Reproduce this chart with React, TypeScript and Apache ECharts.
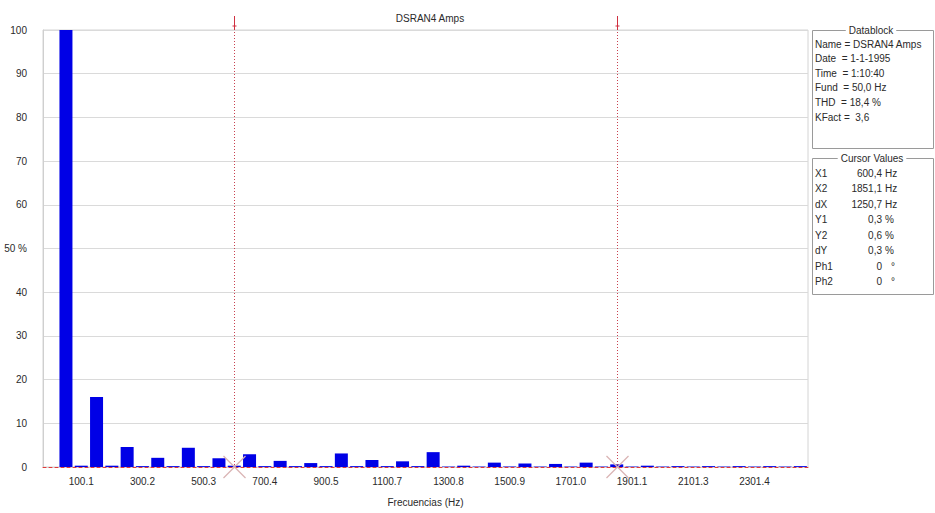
import React, { useEffect, useRef } from 'react';
import * as echarts from 'echarts';

// Harmonic orders (category axis, fundamental = 50.03 Hz)
const harmonicOrders = [
  0, 1, 2, 3, 4, 5, 6, 7, 8, 9, 10, 11, 12, 13, 14, 15, 16, 17, 18, 19, 20, 21, 22, 23, 24,
  25, 26, 27, 28, 29, 30, 31, 32, 33, 34, 35, 36, 37, 38, 39, 40, 41, 42, 43, 44, 45, 46, 47, 48, 49,
];
// Amplitude in % of fundamental
const amplitudes = [
  0, 100, 0.3, 16, 0.3, 4.6, 0.2, 2.1, 0.2, 4.4, 0.2, 2.0, 0.3, 2.9, 0.2, 1.4, 0.2, 0.9, 0.2, 3.1,
  0.2, 1.6, 0.2, 1.3, 0.2, 3.4, 0.1, 0.3, 0.1, 1.0, 0.1, 0.8, 0.1, 0.7, 0.1, 1.0, 0.1, 0.6, 0.1, 0.3,
  0.1, 0.2, 0.1, 0.2, 0.1, 0.2, 0.1, 0.2, 0.1, 0.2,
];
const tickOrders = [2, 6, 10, 14, 18, 22, 26, 30, 34, 38, 42, 46];
const tickLabels = ['100.1', '300.2', '500.3', '700.4', '900.5', '1100.7', '1300.8', '1500.9', '1701.0', '1901.1', '2101.3', '2301.4'];
const cursorOrders = [12, 37];

const chartTitle = 'DSRAN4 Amps';
const xAxisName = 'Frecuencias (Hz)';

const datablockTitle = 'Datablock';
const datablockLines = ['Name = DSRAN4 Amps', 'Date  = 1-1-1995', 'Time  = 1:10:40', 'Fund  = 50,0 Hz', 'THD  = 18,4 %', 'KFact =  3,6'];
const cursorTitle = 'Cursor Values';
const cursorKeys = ['X1', 'X2', 'dX', 'Y1', 'Y2', 'dY', 'Ph1', 'Ph2'];
const cursorNumbers = ['600,4', '1851,1', '1250,7', '0,3', '0,6', '0,3', '0', '0'];
const cursorUnits = ['Hz', 'Hz', 'Hz', '%', '%', '%', '°', '°'];

const FONT = 'Liberation Sans, Arial, sans-serif';
const TXT = '#2a2a2a';

export default function App() {
  const ref = useRef<HTMLDivElement>(null);
  useEffect(() => {
    document.body.style.margin = '0';
    const el = ref.current!;
    const chart = echarts.init(el, null, { renderer: 'svg' });
    const labelMap: Record<string, string> = {};
    tickOrders.forEach((o, i) => (labelMap[String(o)] = tickLabels[i]));

    chart.setOption({
      animation: false,
      backgroundColor: '#ffffff',
      title: {
        text: chartTitle,
        left: 425,
        textAlign: 'center',
        top: 8,
        textStyle: { fontSize: 10, fontWeight: 'normal', color: TXT, fontFamily: FONT },
      },
      grid: {
        left: 43, right: 127, top: 30, bottom: 46,
        show: true, borderColor: '#d4d4d4', borderWidth: 1, backgroundColor: 'transparent',
      },
      xAxis: {
        type: 'category',
        data: harmonicOrders,
        boundaryGap: true,
        name: xAxisName,
        nameLocation: 'middle',
        nameGap: 30,
        nameTextStyle: { fontSize: 10, color: TXT, fontFamily: FONT },
        axisLine: { show: true, lineStyle: { color: '#e03a3a', type: [3, 3], width: 1 } },
        axisTick: { show: false },
        axisLabel: {
          interval: 0,
          margin: 9,
          fontSize: 10,
          color: TXT,
          fontFamily: FONT,
          formatter: (v: string) => labelMap[String(v)] ?? '',
        },
        splitLine: { show: false },
      },
      yAxis: {
        type: 'value',
        min: 0,
        max: 100,
        interval: 10,
        axisLine: { show: true, lineStyle: { color: '#cfcfcf' } },
        axisTick: { show: false },
        axisLabel: {
          margin: 16,
          fontSize: 10,
          color: TXT,
          fontFamily: FONT,
          formatter: (v: number) => (v === 50 ? '50 %' : String(v)),
        },
        splitLine: { show: true, lineStyle: { color: '#dadada', width: 1 } },
      },
      series: [
        {
          type: 'bar',
          data: amplitudes,
          barWidth: 13,
          itemStyle: { color: '#0000e6' },
          z: 3,
        },
      ],
    });

    const yTop = chart.convertToPixel({ yAxisIndex: 0 }, 100) as number;
    const yBase = chart.convertToPixel({ yAxisIndex: 0 }, 0) as number;
    const gfx: any[] = [];
    cursorOrders.forEach((o) => {
      const x = Math.round(chart.convertToPixel({ xAxisIndex: 0 }, o) as number) + 0.5;
      gfx.push({
        type: 'line', silent: true, z: 10,
        shape: { x1: x, y1: yTop - 10, x2: x, y2: yBase },
        style: { stroke: '#c8404f', lineWidth: 1, lineDash: [1, 2] },
      });
      gfx.push({
        type: 'line', silent: true, z: 11,
        shape: { x1: x, y1: yTop - 14, x2: x, y2: yTop },
        style: { stroke: '#d03040', lineWidth: 1 },
      });
      gfx.push({
        type: 'line', silent: true, z: 11,
        shape: { x1: x - 2, y1: yTop - 4, x2: x + 2, y2: yTop - 4 },
        style: { stroke: '#d03040', lineWidth: 1 },
      });
      gfx.push({
        type: 'line', silent: true, z: 11,
        shape: { x1: x - 11, y1: yBase - 11, x2: x + 11, y2: yBase + 11 },
        style: { stroke: '#d9b3b3', lineWidth: 1.2 },
      });
      gfx.push({
        type: 'line', silent: true, z: 11,
        shape: { x1: x - 11, y1: yBase + 11, x2: x + 11, y2: yBase - 11 },
        style: { stroke: '#d9b3b3', lineWidth: 1.2 },
      });
    });

    const txt = (text: string, x: number, y: number, align = 'left') => ({
      type: 'text', silent: true, z: 20, x, y,
      style: { text, fill: TXT, fontSize: 10, fontFamily: FONT, align, verticalAlign: 'middle' },
    });

    // Datablock panel
    gfx.push({
      type: 'rect', silent: true, z: 19,
      shape: { x: 812.5, y: 30.5, width: 121, height: 118 },
      style: { fill: '#fff', stroke: '#9a9a9a', lineWidth: 1 },
    });
    gfx.push({
      type: 'text', silent: true, z: 21, x: 871, y: 30,
      style: { text: datablockTitle, fill: TXT, fontSize: 10, fontFamily: FONT, align: 'center', verticalAlign: 'middle', backgroundColor: '#fff', padding: [0, 3] },
    });
    datablockLines.forEach((t, i) => gfx.push(txt(t, 815, 44 + i * 14.6)));

    // Cursor values panel
    gfx.push({
      type: 'rect', silent: true, z: 19,
      shape: { x: 812.5, y: 158.5, width: 121, height: 136 },
      style: { fill: '#fff', stroke: '#9a9a9a', lineWidth: 1 },
    });
    gfx.push({
      type: 'text', silent: true, z: 21, x: 872, y: 158,
      style: { text: cursorTitle, fill: TXT, fontSize: 10, fontFamily: FONT, align: 'center', verticalAlign: 'middle', backgroundColor: '#fff', padding: [0, 3] },
    });
    cursorKeys.forEach((k, i) => {
      const y = 173 + i * 15.5;
      gfx.push(txt(k, 815, y));
      gfx.push(txt(cursorNumbers[i], 882, y, 'right'));
      gfx.push(txt(cursorUnits[i], cursorUnits[i] === '°' ? 891 : 885, y));
    });

    chart.setOption({ graphic: gfx });
    return () => chart.dispose();
  }, []);
  return <div ref={ref} style={{ width: 935, height: 513 }} />;
}
